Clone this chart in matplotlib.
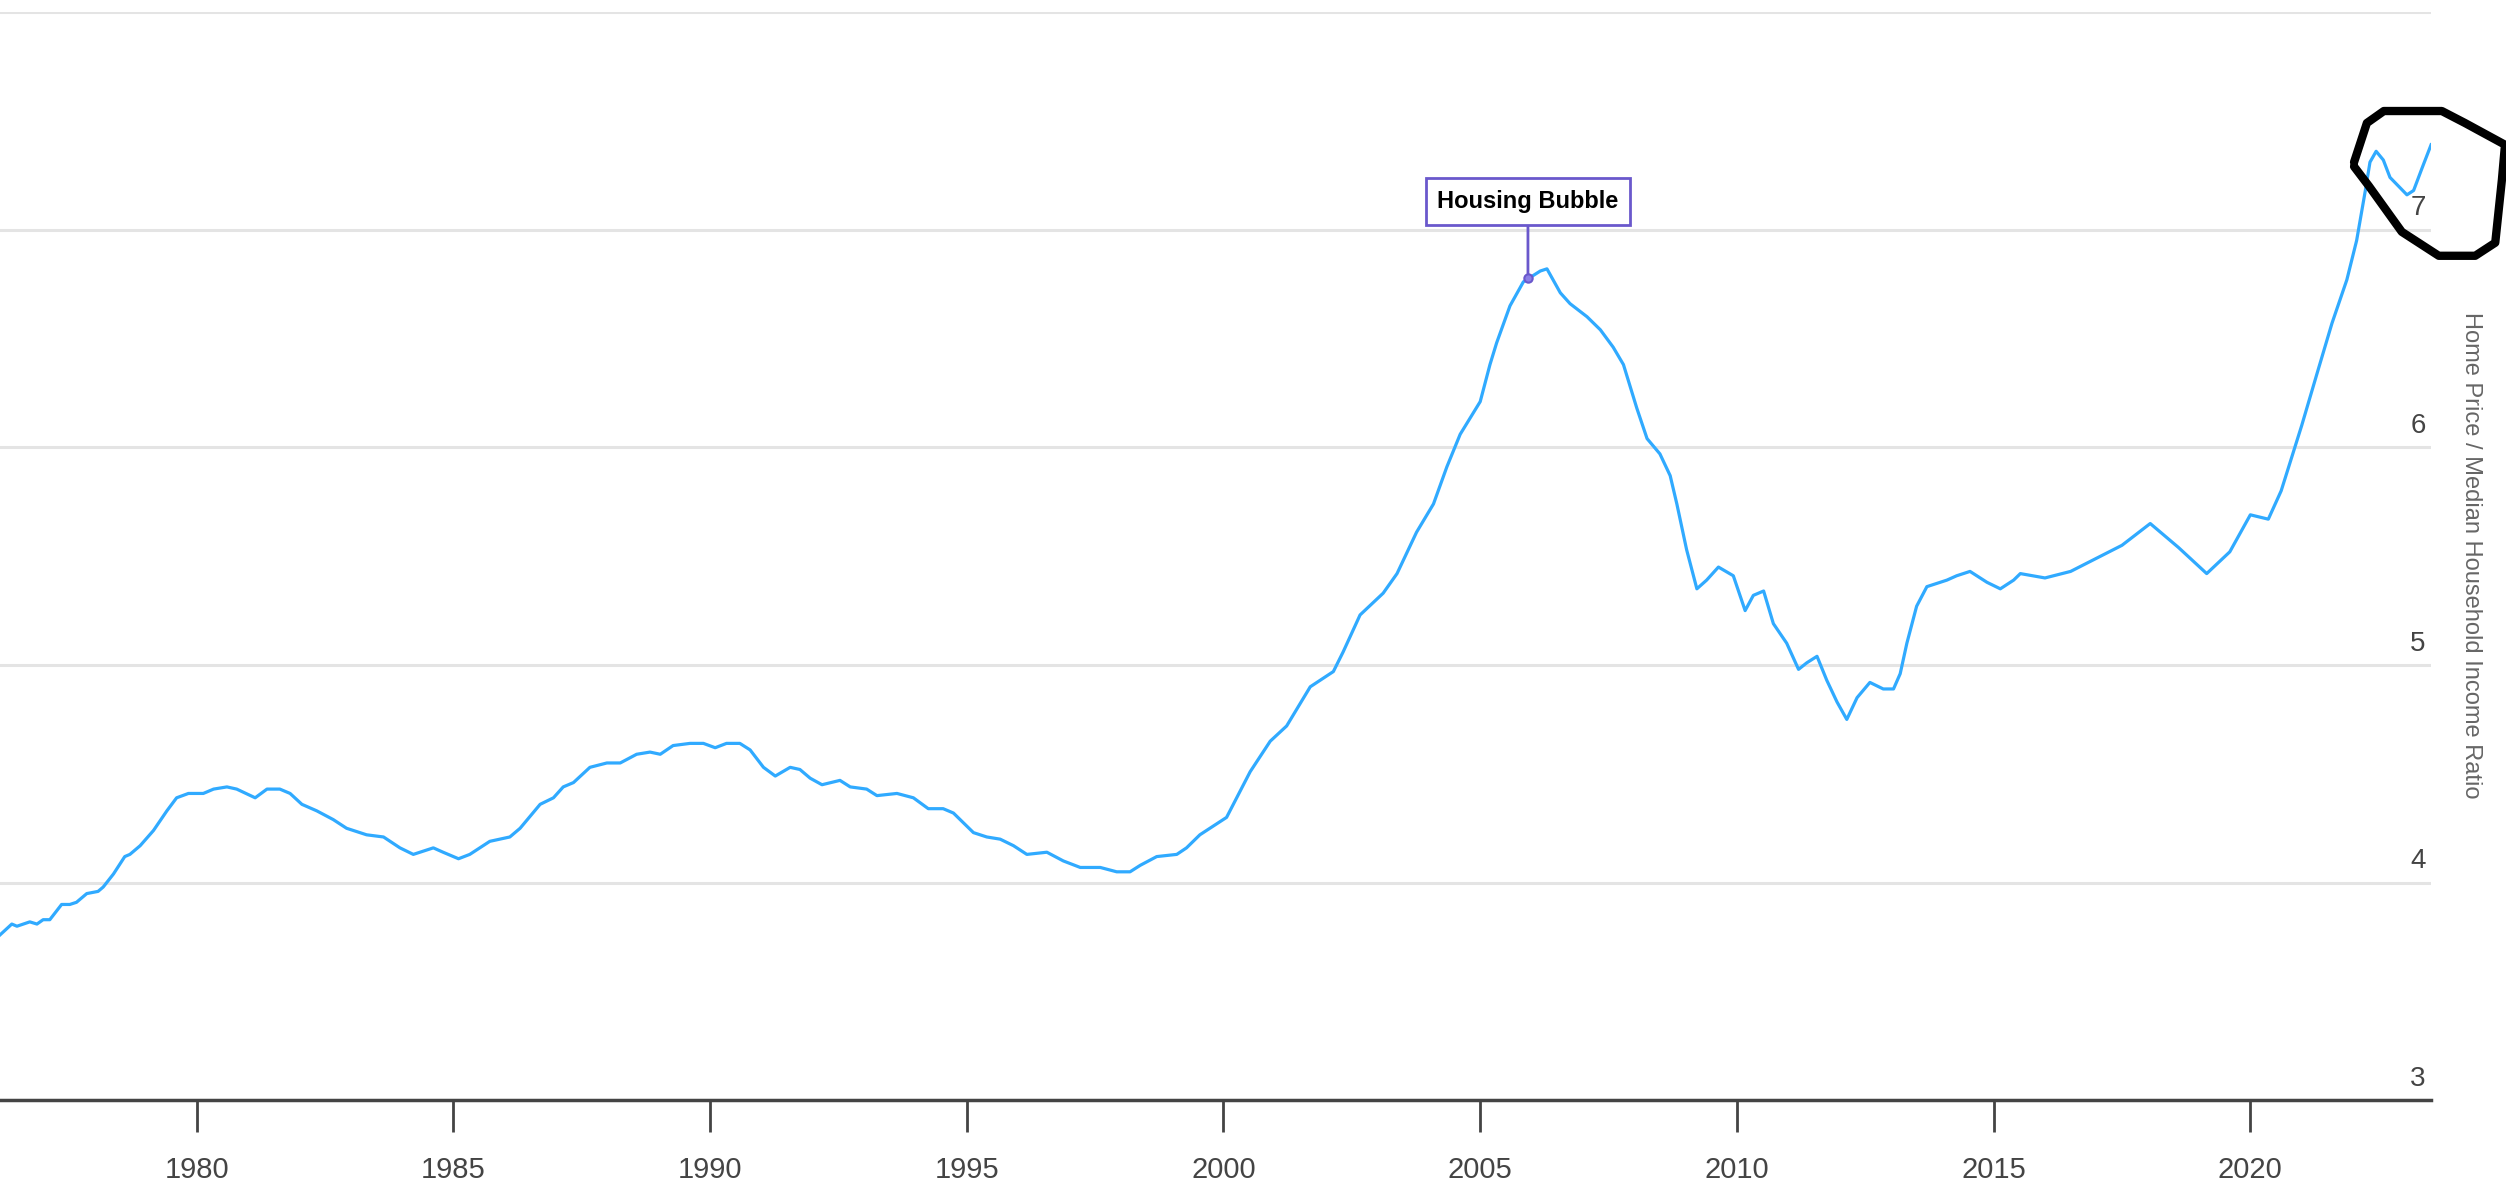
import matplotlib
matplotlib.use("Agg")
import matplotlib.pyplot as plt
import matplotlib.transforms as mtransforms

# home price / median household income ratio
years = [
    1976.17, 1976.40, 1976.50, 1976.75, 1976.89, 1977.01, 1977.14, 1977.37, 1977.53, 1977.66,
    1977.86, 1978.08, 1978.18, 1978.38, 1978.60, 1978.70, 1978.90, 1979.16, 1979.42, 1979.61,
    1979.84, 1980.13, 1980.33, 1980.59, 1980.78, 1981.14, 1981.37, 1981.62, 1981.82, 1982.05,
    1982.34, 1982.66, 1982.92, 1983.31, 1983.64, 1983.96, 1984.22, 1984.61, 1984.80, 1985.10,
    1985.32, 1985.71, 1986.10, 1986.30, 1986.69, 1986.95, 1987.14, 1987.34, 1987.66, 1987.99,
    1988.25, 1988.57, 1988.83, 1989.03, 1989.28, 1989.61, 1989.87, 1990.10, 1990.32, 1990.58,
    1990.78, 1991.04, 1991.27, 1991.56, 1991.75, 1991.95, 1992.18, 1992.53, 1992.73, 1993.05,
    1993.25, 1993.64, 1993.96, 1994.25, 1994.54, 1994.74, 1995.13, 1995.39, 1995.65, 1995.91,
    1996.17, 1996.56, 1996.88, 1997.21, 1997.60, 1997.92, 1998.18, 1998.38, 1998.70, 1999.09,
    1999.28, 1999.54, 2000.06, 2000.52, 2000.91, 2001.23, 2001.69, 2002.14, 2002.33, 2002.66,
    2003.11, 2003.38, 2003.76, 2004.09, 2004.35, 2004.61, 2005.00, 2005.19, 2005.32, 2005.58,
    2005.84, 2005.97, 2006.17, 2006.30, 2006.56, 2006.75, 2007.08, 2007.34, 2007.59, 2007.79,
    2008.05, 2008.25, 2008.50, 2008.70, 2008.83, 2009.02, 2009.22, 2009.41, 2009.64, 2009.93,
    2010.16, 2010.32, 2010.52, 2010.71, 2010.97, 2011.20, 2011.36, 2011.56, 2011.75, 2011.95,
    2012.14, 2012.34, 2012.59, 2012.85, 2013.05, 2013.18, 2013.31, 2013.50, 2013.70, 2014.09,
    2014.28, 2014.54, 2014.87, 2015.13, 2015.39, 2015.52, 2016.00, 2016.50, 2017.00, 2017.50,
    2018.05, 2018.60, 2019.15, 2019.60, 2020.00, 2020.35, 2020.60, 2021.00, 2021.30, 2021.59,
    2021.88, 2022.07, 2022.24, 2022.33, 2022.45, 2022.59, 2022.72, 2023.05, 2023.18, 2023.34,
    2023.52,
]
ratio = [
    3.76, 3.81, 3.80, 3.82, 3.81, 3.83, 3.83, 3.90, 3.90, 3.91,
    3.95, 3.96, 3.98, 4.04, 4.12, 4.13, 4.17, 4.24, 4.33, 4.39,
    4.41, 4.41, 4.43, 4.44, 4.43, 4.39, 4.43, 4.43, 4.41, 4.36,
    4.33, 4.29, 4.25, 4.22, 4.21, 4.16, 4.13, 4.16, 4.14, 4.11,
    4.13, 4.19, 4.21, 4.25, 4.36, 4.39, 4.44, 4.46, 4.53, 4.55,
    4.55, 4.59, 4.60, 4.59, 4.63, 4.64, 4.64, 4.62, 4.64, 4.64,
    4.61, 4.53, 4.49, 4.53, 4.52, 4.48, 4.45, 4.47, 4.44, 4.43,
    4.40, 4.41, 4.39, 4.34, 4.34, 4.32, 4.23, 4.21, 4.20, 4.17,
    4.13, 4.14, 4.10, 4.07, 4.07, 4.05, 4.05, 4.08, 4.12, 4.13,
    4.16, 4.22, 4.30, 4.51, 4.65, 4.72, 4.90, 4.97, 5.06, 5.23,
    5.33, 5.42, 5.61, 5.74, 5.91, 6.06, 6.21, 6.38, 6.48, 6.65,
    6.76, 6.78, 6.81, 6.82, 6.71, 6.66, 6.60, 6.54, 6.46, 6.38,
    6.18, 6.04, 5.97, 5.87, 5.74, 5.53, 5.35, 5.39, 5.45, 5.41,
    5.25, 5.32, 5.34, 5.19, 5.10, 4.98, 5.01, 5.04, 4.93, 4.83,
    4.75, 4.85, 4.92, 4.89, 4.89, 4.96, 5.10, 5.27, 5.36, 5.39,
    5.41, 5.43, 5.38, 5.35, 5.39, 5.42, 5.40, 5.43, 5.49, 5.55,
    5.65, 5.54, 5.42, 5.52, 5.69, 5.67, 5.80, 6.10, 6.34, 6.57,
    6.77, 6.95, 7.18, 7.31, 7.36, 7.32, 7.24, 7.16, 7.18, 7.28,
    7.39,
]

x_ticks = [1980, 1985, 1990, 1995, 2000, 2005, 2010, 2015, 2020]
y_ticks = [3, 4, 5, 6, 7, 8]
y_labels = ["3", "4", "5", "6", "7"]

bubble_label = "Housing Bubble"
bubble_x, bubble_y = 2005.93, 6.78
bubble_box_y = 7.13

# hand drawn loop around the last readings
scribble_x = [2022.02, 2022.27, 2022.60, 2023.73, 2024.18, 2024.96, 2024.90, 2024.77,
              2024.38, 2023.67, 2022.95, 2022.31, 2022.02]
scribble_y = [7.31, 7.49, 7.545, 7.545, 7.49, 7.39, 7.23, 6.94,
              6.88, 6.88, 6.99, 7.20, 7.29]

LINE = "#30aaff"
GRID = "#e4e4e4"
AXIS = "#444444"
BOX = "#6a58cc"
TICK_FONT = ["Liberation Sans Narrow", "Liberation Sans", "DejaVu Sans"]

fig = plt.figure(figsize=(25.06, 11.86), dpi=100)
ax = fig.add_axes([0.0, 0.0722, 0.9701, 0.9177])

ax.plot(years, ratio, color=LINE, lw=2.3, zorder=3)

ax.set_xlim(1976.17, 2023.52)
ax.set_ylim(3, 8)

for s in ["top", "left", "right"]:
    ax.spines[s].set_visible(False)
ax.spines["bottom"].set_color(AXIS)
ax.spines["bottom"].set_linewidth(2.5)
ax.spines["bottom"].set_zorder(4)

ax.set_yticks(y_ticks)
ax.yaxis.grid(True, color=GRID, lw=2.2)
ax.set_axisbelow(True)
ax.tick_params(axis="y", left=False, labelleft=False)

ax.set_xticks(x_ticks)
ax.set_xticklabels([str(t) for t in x_ticks], family=TICK_FONT, fontsize=21, color=AXIS)
ax.tick_params(axis="x", direction="out", length=23, width=2, color=AXIS, pad=17)

# value labels sit just above each gridline at the right end
trans = mtransforms.blended_transform_factory(ax.transAxes, ax.transData)
offset = mtransforms.ScaledTranslation(-4 / 72, 6 / 72, fig.dpi_scale_trans)
for v, lab in zip(y_ticks, y_labels):
    ax.text(1.0, v, lab, transform=trans + offset, ha="right", va="bottom",
            family=TICK_FONT, fontsize=20, color=AXIS)

fig.text(2471 / 2506, 1 - 555 / 1186, "Home Price / Median Household Income Ratio",
         rotation=270, ha="center", va="center", fontsize=17, color="#666666",
         family=["Liberation Sans", "DejaVu Sans"])

ax.annotate(bubble_label, xy=(bubble_x, bubble_y), xytext=(bubble_x, bubble_box_y),
            ha="center", va="center", fontsize=17, fontweight="bold", color="black",
            family=["Liberation Sans", "DejaVu Sans"],
            bbox=dict(boxstyle="square,pad=0.5", fc="white", ec=BOX, lw=2),
            arrowprops=dict(arrowstyle="-", color=BOX, lw=2, shrinkA=0, shrinkB=0),
            zorder=5)
ax.plot(bubble_x, bubble_y, "o", ms=6, mfc="#8c7fe6", mec=BOX, mew=1.5, zorder=6)

ax.plot(scribble_x, scribble_y, color="black", lw=6, solid_joinstyle="round",
        solid_capstyle="round", clip_on=False, zorder=7)

fig.savefig("out.png", dpi=100, facecolor="white")
